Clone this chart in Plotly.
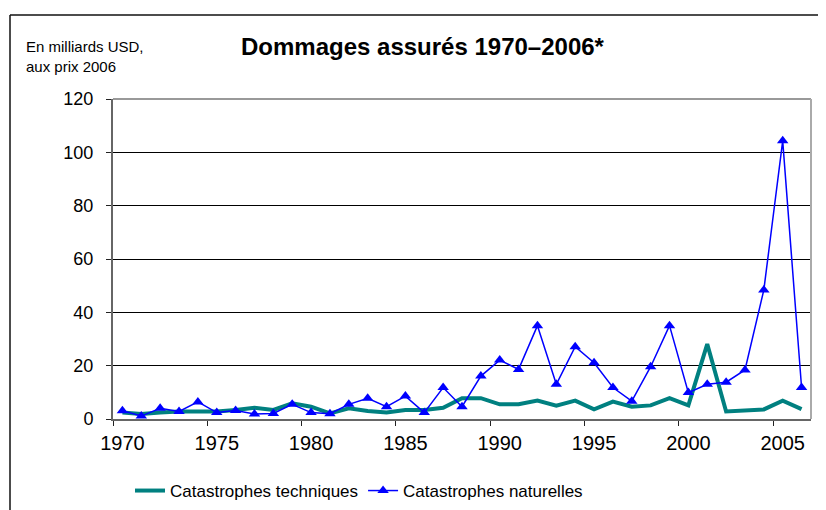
import plotly.graph_objects as go

years = list(range(1970, 2007))
techniques = [2.4, 1.9, 2.4, 2.8, 2.8, 2.8, 3.4, 4.2, 3.4, 5.9,
              4.6, 2.1, 4.0, 3.0, 2.4, 3.4, 3.4, 4.2, 7.8, 7.8,
              5.5, 5.5, 6.9, 5.0, 6.9, 3.6, 6.5, 4.6, 5.1, 7.8,
              5.1, 28.1, 2.8, 3.1, 3.6, 6.9, 3.7]
naturelles = [3.1, 1.1, 4.0, 2.8, 6.4, 2.4, 3.2, 1.9, 2.1, 5.5,
              2.4, 2.0, 5.5, 7.8, 4.6, 8.6, 2.4, 11.8, 4.6, 16.1,
              22.1, 18.6, 35.0, 13.0, 27.1, 21.1, 11.8, 6.7, 19.6, 35.0,
              9.9, 13.0, 13.8, 18.4, 48.4, 104.3, 11.8]
x_ticks = [1970, 1975, 1980, 1985, 1990, 1995, 2000, 2005]
y_ticks = [0, 20, 40, 60, 80, 100, 120]

FONT = "Liberation Sans, Arial, sans-serif"

fig = go.Figure()
fig.add_trace(go.Scatter(
    x=years, y=techniques, mode="lines", name="Catastrophes techniques",
    line=dict(color="#008080", width=4)))
fig.add_trace(go.Scatter(
    x=years, y=naturelles, mode="lines+markers", name="Catastrophes naturelles",
    line=dict(color="#0000FF", width=1.5),
    marker=dict(symbol="triangle-up", size=10, color="#0000FF")))

# The page body has an 8px margin: target screen pixel p -> figure pixel p - 8
OFF = 8
W, H = 826, 510
L = 113 - OFF
T = 99 - OFF
PB = 419 - OFF          # plot bottom in figure px
PR = 811 - OFF          # plot right in figure px
R = W - PR
B = H - PB
pw, ph = PR - L, PB - T

def px(x):
    return (x - OFF - L) / pw

def py(y):
    return (PB - (y - OFF)) / ph

fig.update_layout(
    width=W, height=H,
    margin=dict(l=L, r=R, t=T, b=B, pad=0, autoexpand=False),
    paper_bgcolor="white", plot_bgcolor="white",
    font=dict(family=FONT, color="black", size=17),
    showlegend=True,
    legend=dict(orientation="h", x=px(130), xanchor="left",
                y=py(491), yanchor="middle",
                font=dict(size=17), bgcolor="rgba(0,0,0,0)", itemwidth=30,
                tracegroupgap=0),
    xaxis=dict(range=[1969.5, 2006.5], tickmode="array", tickvals=x_ticks,
               ticktext=[str(v) for v in x_ticks], ticks="", showgrid=False,
               zeroline=False, showline=True, linecolor="#666666", linewidth=2,
               tickfont=dict(size=20), ticklabelstandoff=5,
               minor=dict(tickmode="array", tickvals=[v - 0.5 for v in x_ticks],
                          ticks="outside", ticklen=5, tickcolor="#222222", tickwidth=1,
                          showgrid=False)),
    yaxis=dict(range=[0, 120], tickmode="array", tickvals=y_ticks, ticks="outside",
               ticklen=5, tickcolor="#222222", tickwidth=1, showgrid=True,
               gridcolor="#000000", gridwidth=1, zeroline=False, showline=True,
               linecolor="#666666", linewidth=2, tickfont=dict(size=18),
               ticklabelstandoff=9),
    shapes=[
        dict(type="line", xref="paper", yref="paper", x0=0, x1=1, y0=1, y1=1,
             line=dict(color="#999999", width=2)),
        dict(type="line", xref="paper", yref="paper", x0=1, x1=1, y0=0, y1=1,
             line=dict(color="#aaaaaa", width=2)),
        dict(type="line", xref="paper", yref="paper", x0=px(10), x1=px(10),
             y0=py(15), y1=py(530), line=dict(color="#111111", width=1.5)),
        dict(type="line", xref="paper", yref="paper", x0=px(10), x1=px(840),
             y0=py(15), y1=py(15), line=dict(color="#111111", width=1.5)),
    ],
    annotations=[
        dict(text="<b>Dommages assurés 1970–2006*</b>", xref="paper", yref="paper",
             x=px(423), y=py(47), xanchor="center", yanchor="middle",
             showarrow=False, font=dict(size=24, family=FONT)),
        dict(text="En milliards USD,<br>aux prix 2006", xref="paper", yref="paper",
             x=px(24), y=py(57), xanchor="left", yanchor="middle", align="left",
             showarrow=False, font=dict(size=15, family=FONT)),
    ],
)

fig.write_html("out.html")
